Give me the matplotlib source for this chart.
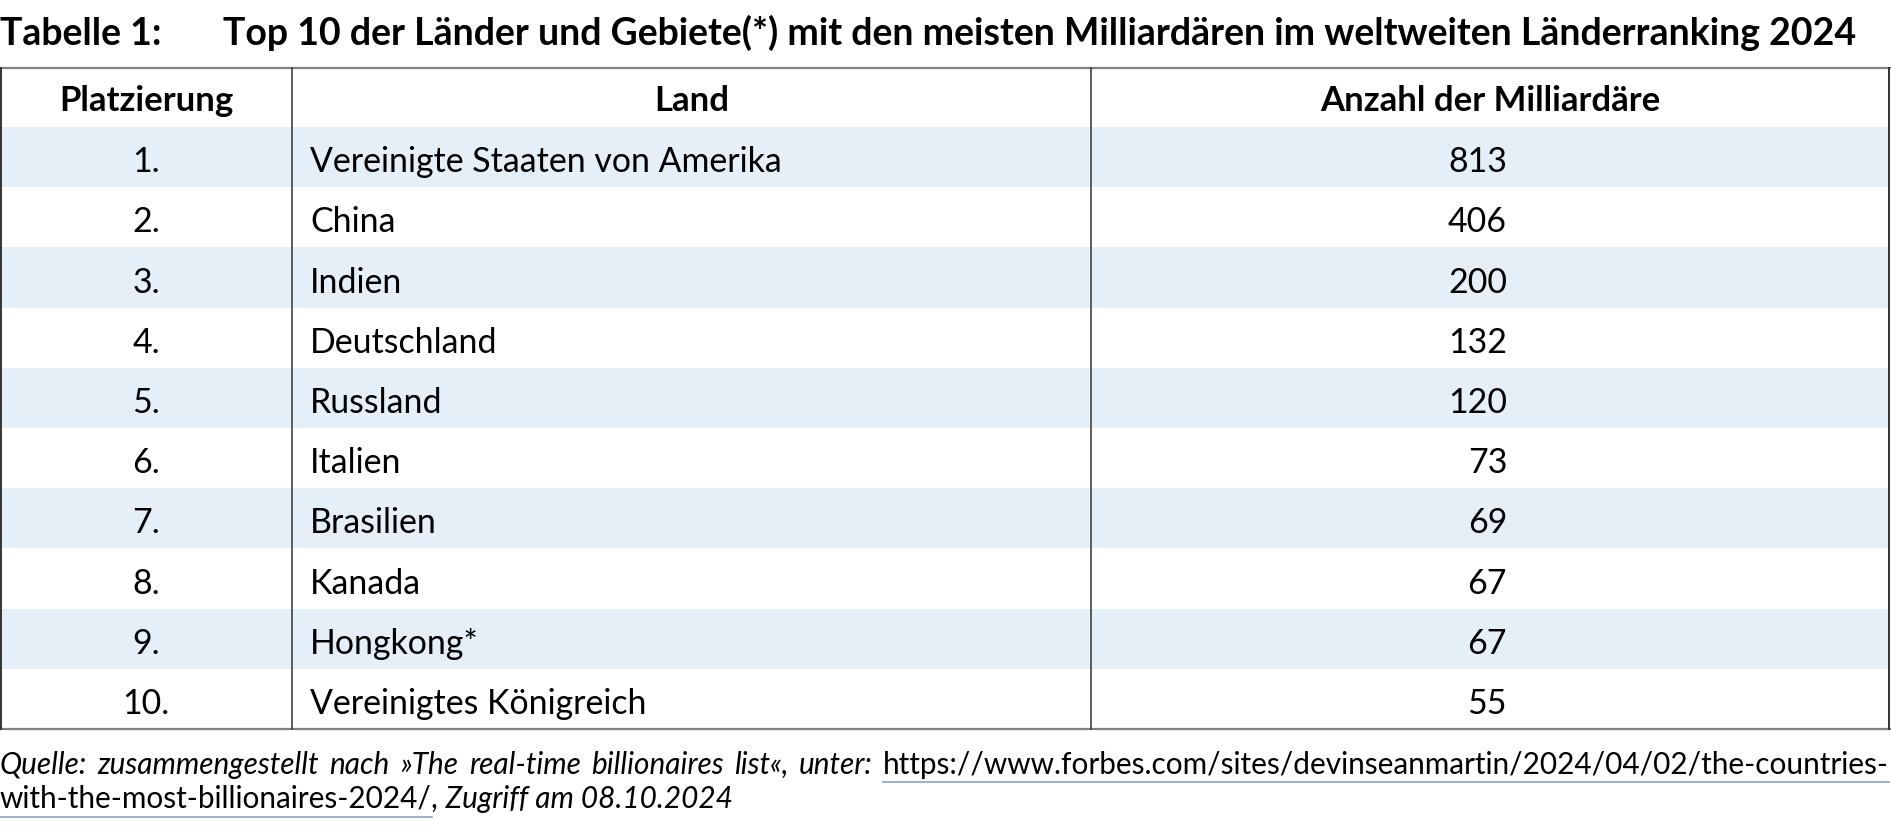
import matplotlib
matplotlib.use("Agg")
import matplotlib.pyplot as plt
from matplotlib.patches import Rectangle

# ---- data ----
title_label = "Tabelle 1:"
title_text = "Top 10 der Länder und Gebiete(*) mit den meisten Milliardären im weltweiten Länderranking 2024"
headers = ["Platzierung", "Land", "Anzahl der Milliardäre"]
ranks = ["1.", "2.", "3.", "4.", "5.", "6.", "7.", "8.", "9.", "10."]
countries = ["Vereinigte Staaten von Amerika", "China", "Indien", "Deutschland", "Russland",
             "Italien", "Brasilien", "Kanada", "Hongkong*", "Vereinigtes Königreich"]
billionaires = [813, 406, 200, 132, 120, 73, 69, 67, 67, 55]
source_1 = "Quelle: zusammengestellt nach »The real-time billionaires list«, unter:"
url_1 = "https://www.forbes.com/sites/devinseanmartin/2024/04/02/the-countries-"
url_2 = "with-the-most-billionaires-2024/"
source_2 = ", Zugriff am 08.10.2024"

# ---- layout (pixel space) ----
W, H = 1891, 829
fig = plt.figure(figsize=(W / 100, H / 100), dpi=100)
ax = fig.add_axes([0, 0, 1, 1])
ax.set_xlim(0, W)
ax.set_ylim(H, 0)
ax.axis("off")

FONT = "Lato"
col_edges = [1, 292, 1091, 1889]
table_top = 69
header_bottom = 128
row_h = 60.2
band_color = "#e4eff7"
grey_line = "#808080"
dark_line = "#333333"

TITLE_FS = 27
HEAD_FS = 25
BODY_FS = 24.4
FOOT_FS = 21.4

# title
ax.text(0, 45, title_label, fontsize=TITLE_FS, fontweight="bold", family=FONT, va="baseline", ha="left")
ax.text(223, 45, title_text, fontsize=TITLE_FS, fontweight="bold", family=FONT, va="baseline", ha="left")

# bands
n = len(ranks)
for i in range(n):
    y0 = header_bottom + i * row_h
    if i % 2 == 0:
        ax.add_patch(Rectangle((col_edges[0], y0), col_edges[-1] - col_edges[0], row_h,
                               facecolor=band_color, edgecolor="none", zorder=1))

table_bottom = header_bottom + n * row_h

# lines
ax.plot([0, W], [table_top, table_top], color=grey_line, lw=1.6, zorder=3, solid_capstyle="butt")
ax.plot([0, W], [table_bottom, table_bottom], color=grey_line, lw=1.6, zorder=3, solid_capstyle="butt")
for x, c, lw in [(col_edges[0], dark_line, 1.4), (col_edges[1], dark_line, 1.1),
                 (col_edges[2], dark_line, 1.1), (col_edges[3], dark_line, 1.4)]:
    ax.plot([x, x], [table_top, table_bottom], color=c, lw=lw, zorder=3)

# headers
hy = (table_top + header_bottom) / 2 + 12
centers = [146] + [(col_edges[j] + col_edges[j + 1]) / 2 for j in (1, 2)]
for j, h in enumerate(headers):
    ax.text(centers[j], hy, h, fontsize=HEAD_FS, fontweight="bold", family=FONT,
            ha="center", va="baseline", zorder=4)

# rows
for i in range(n):
    yb = header_bottom + (i + 0.5) * row_h + 14
    ax.text(146, yb, ranks[i], fontsize=BODY_FS, family=FONT, ha="center", va="baseline", zorder=4)
    ax.text(310, yb, countries[i], fontsize=BODY_FS, family=FONT, ha="left", va="baseline", zorder=4)
    ax.text(1507, yb, str(billionaires[i]), fontsize=BODY_FS, family=FONT, ha="right", va="baseline", zorder=4)

# footer
fig.canvas.draw()
renderer = fig.canvas.get_renderer()
inv = ax.transData.inverted()

def width_of(s, style):
    t = ax.text(0, 0, s, fontsize=FOOT_FS, family=FONT, style=style)
    bb = t.get_window_extent(renderer)
    t.remove()
    return inv.transform((bb.x1, 0))[0] - inv.transform((bb.x0, 0))[0]

def place(x, y, s, style):
    t = ax.text(x, y, s, fontsize=FOOT_FS, family=FONT, style=style, ha="left", va="baseline", zorder=4)
    bb = t.get_window_extent(renderer)
    return inv.transform((bb.x1, bb.y0))[0]

link_color = "#8aa3cc"
y1, y2 = 774, 808

# line 1: justified to the full width
words = [(w, "italic") for w in source_1.split(" ")] + [(url_1, "normal")]
widths = [width_of(w, s) for w, s in words]
right_edge = 1889
gap = (right_edge - sum(widths)) / (len(words) - 1)
x = 0
url_start = None
for (w, s), wd in zip(words, widths):
    if s == "normal":
        url_start = x
    place(x, y1, w, s)
    x += wd + gap
ax.plot([url_start, right_edge], [y1 + 9, y1 + 9], color=link_color, lw=1.2, zorder=4)

# line 2
xc = place(0, y2, url_2, "normal")
ax.plot([0, xc], [y2 + 10, y2 + 10], color=link_color, lw=1.2, zorder=4)
place(xc, y2, source_2, "italic")

fig.savefig("out.png", dpi=100)
